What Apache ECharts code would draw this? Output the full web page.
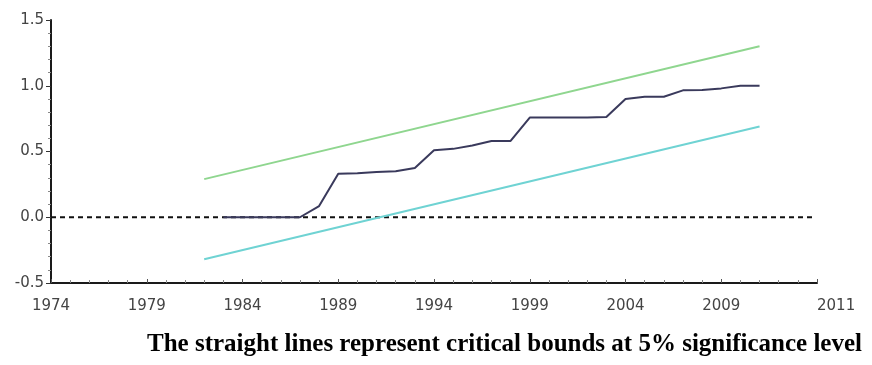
<!DOCTYPE html>
<html><head><meta charset="utf-8">
<script src="https://cdn.jsdelivr.net/npm/echarts@6/dist/echarts.min.js"></script>
<style>html,body{margin:0;padding:0;background:#fff}#c{width:872px;height:365px}</style>
</head><body><div id="c"></div>
<script>
// ---- data ----
const axisStartYear = 1974;
const xTickLabels = ['1974','1979','1984','1989','1994','1999','2004','2009','2011'];
const cusumYears = [1983,1984,1985,1986,1987,1988,1989,1990,1991,1992,1993,1994,1995,1996,1997,1998,1999,2000,2001,2002,2003,2004,2005,2006,2007,2008,2009,2010,2011];
const cusumValues = [0,0,0,0,0,0.085,0.33,0.335,0.345,0.35,0.375,0.51,0.52,0.545,0.58,0.58,0.758,0.758,0.758,0.758,0.762,0.9,0.916,0.916,0.965,0.967,0.98,1.0,1.0];
const boundYears = [1982, 2011];
const upperBound = [0.29, 1.30];
const lowerBound = [-0.32, 0.69];
const zeroLineYears = [1974, 2013.8];
const zeroLineValues = [0, 0];
const noteText = 'The straight lines represent critical bounds at 5% significance level';

const toPts = (years, vals) => years.map((y, i) => [y - axisStartYear, vals[i]]);

const chart = echarts.init(document.getElementById('c'), null, {renderer: 'canvas'});
chart.setOption({
  backgroundColor: '#fff',
  animation: false,
  title: {
    text: noteText,
    right: 5, top: 327,
    textStyle: {fontFamily: 'Liberation Serif', fontWeight: 'bold', fontSize: 25, color: '#000'}
  },
  grid: {left: 51, right: 55, top: 20, bottom: 82, containLabel: false},
  xAxis: {
    type: 'value', min: 0, max: 40, interval: 5,
    axisLine: {show: true, onZero: false, lineStyle: {color: '#1a1a1a', width: 2}},
    axisTick: {show: true, inside: true, length: 4, lineStyle: {color: '#555', width: 1}},
    minorTick: {show: true, splitNumber: 5, length: 3, lineStyle: {color: '#888'}},
    splitLine: {show: false},
    axisLabel: {
      margin: 16, fontFamily: 'DejaVu Sans', fontSize: 15, color: '#444',
      formatter: v => xTickLabels[Math.round(v / 5)] || '',
      alignMaxLabel: 'left'
    }
  },
  yAxis: {
    type: 'value', min: -0.5, max: 1.5, interval: 0.5,
    axisLine: {show: true, onZero: false, lineStyle: {color: '#1a1a1a', width: 2}},
    axisTick: {show: true, inside: false, length: 5, lineStyle: {color: '#333', width: 1}},
    minorTick: {show: true, splitNumber: 5, length: 3, lineStyle: {color: '#888'}},
    splitLine: {show: false},
    axisLabel: {
      margin: 7, fontFamily: 'DejaVu Sans', fontSize: 15, color: '#444',
      formatter: v => v.toFixed(1)
    }
  },
  series: [
    {type: 'line', data: toPts(zeroLineYears, zeroLineValues), symbol: 'none', silent: true,
     lineStyle: {color: '#111', width: 2, type: [5, 4]}},
    {type: 'line', data: toPts(boundYears, upperBound), symbol: 'none',
     lineStyle: {color: '#8fd68f', width: 2}},
    {type: 'line', data: toPts(boundYears, lowerBound), symbol: 'none',
     lineStyle: {color: '#6fd3d3', width: 2}},
    {type: 'line', data: toPts(cusumYears, cusumValues), symbol: 'none',
     lineStyle: {color: '#3a3a5c', width: 2}}
  ]
});
</script>
</body></html>
